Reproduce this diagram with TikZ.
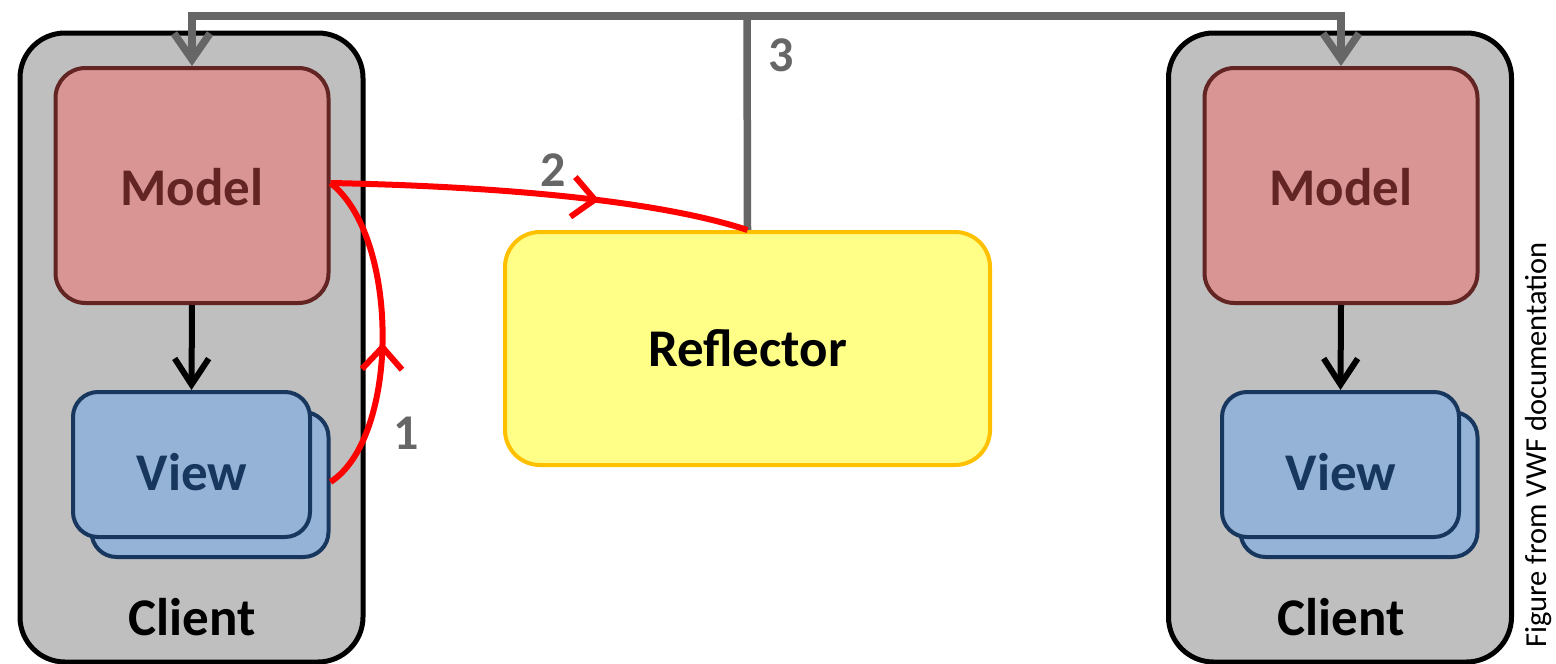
\documentclass[tikz,border=0pt]{standalone}
\usepackage{fontspec}
\setmainfont{Carlito}
\usetikzlibrary{arrows.meta,decorations.markings}
\definecolor{clientfill}{HTML}{BFBFBF}
\definecolor{modelfill}{HTML}{D99594}
\definecolor{modeldraw}{HTML}{632523}
\definecolor{viewfill}{HTML}{95B3D7}
\definecolor{viewdraw}{HTML}{17375E}
\definecolor{reflfill}{HTML}{FFFF88}
\definecolor{refldraw}{HTML}{FFC000}
\definecolor{greyline}{HTML}{666666}
\tikzset{
  clientbox/.style={draw=black, line width=5pt, fill=clientfill, rounded corners=45pt, minimum width=343pt, minimum height=629pt},
  modelbox/.style={draw=modeldraw, line width=4pt, fill=modelfill, rounded corners=30pt, minimum width=273pt, minimum height=235pt},
  viewbox/.style={draw=viewdraw, line width=4pt, fill=viewfill, rounded corners=25pt, minimum width=237pt, minimum height=145pt},
  reflbox/.style={draw=refldraw, line width=4pt, fill=reflfill, rounded corners=35pt, minimum width=485pt, minimum height=233pt},
  bigtxt/.style={font=\fontsize{53}{60}\selectfont\bfseries},
  numtxt/.style={font=\fontsize{50}{60}\selectfont\bfseries, text=greyline},
  greyarrow/.style={draw=greyline, line width=7.5pt, -{Straight Barb[length=26pt, width=36pt, line width=7.5pt]}},
  blackarrow/.style={draw=black, line width=6pt, -{Straight Barb[length=26pt, width=34pt, line width=6pt]}},
  redline/.style={draw=red, line width=6pt},
  redmark/.style={postaction={decorate}, decoration={markings, mark=at position #1 with {\arrow[red, line width=6pt]{Straight Barb[length=22pt, width=40pt]}}}}
}
\begin{document}
\begin{tikzpicture}[x=1pt, y=-1pt]
\useasboundingbox (0,0) rectangle (1556,664);
% left client
\node[clientbox] (clientL) at (191.5,347.5) {};
\node[modelbox] (modelL) at (192,185.5) {};
\node[bigtxt, text=modeldraw] (modelLt) at (192,187) {Model};
\node[viewbox] (viewLb) at (210,484.5) {};
\node[viewbox] (viewLf) at (191.5,464.5) {};
\node[bigtxt, text=viewdraw] (viewLt) at (192,472) {View};
\node[bigtxt, text=black] (clientLt) at (192,617) {Client};
% right client
\node[clientbox] (clientR) at (1340,347.5) {};
\node[modelbox] (modelR) at (1341,185.5) {};
\node[bigtxt, text=modeldraw] (modelRt) at (1341,187) {Model};
\node[viewbox] (viewRb) at (1359,484.5) {};
\node[viewbox] (viewRf) at (1340.5,464.5) {};
\node[bigtxt, text=viewdraw] (viewRt) at (1341,472) {View};
\node[bigtxt, text=black] (clientRt) at (1341,617) {Client};
% reflector
\node[reflbox] (refl) at (747.5,348.5) {};
\node[bigtxt, text=black] (reflt) at (747.5,348) {Reflector};
% model -> view
\draw[blackarrow] (modelL.south) -- (viewLf.north);
\draw[blackarrow] (modelR.south) -- (viewRf.north);
% grey broadcast
\coordinate (top) at (747,16);
\draw[draw=greyline, line width=7.5pt] (refl.north) -- (top);
\draw[greyarrow] (top) -| (modelL.north);
\draw[greyarrow] (top) -| (modelR.north);
% red arrows
\coordinate (vout) at ([yshift=2.5pt]viewLb.east);
\coordinate (min) at ([yshift=2.5pt]modelL.east);
\draw[redline, redmark=0.47] (vout) .. controls (400,437) and (400,237) .. (min);
\draw[redline, redmark=0.64] (min) .. controls (480,186) and (650,198) .. (refl.north);
% labels
\node[numtxt] (n1) at (406,433) {1};
\node[numtxt] (n2) at (553,170) {2};
\node[numtxt] (n3) at (781,55) {3};
\node[rotate=90, inner sep=0pt, font=\fontsize{30.5}{36}\selectfont] (cap) at (1539,445) {Figure from VWF documentation};
\end{tikzpicture}
\end{document}
